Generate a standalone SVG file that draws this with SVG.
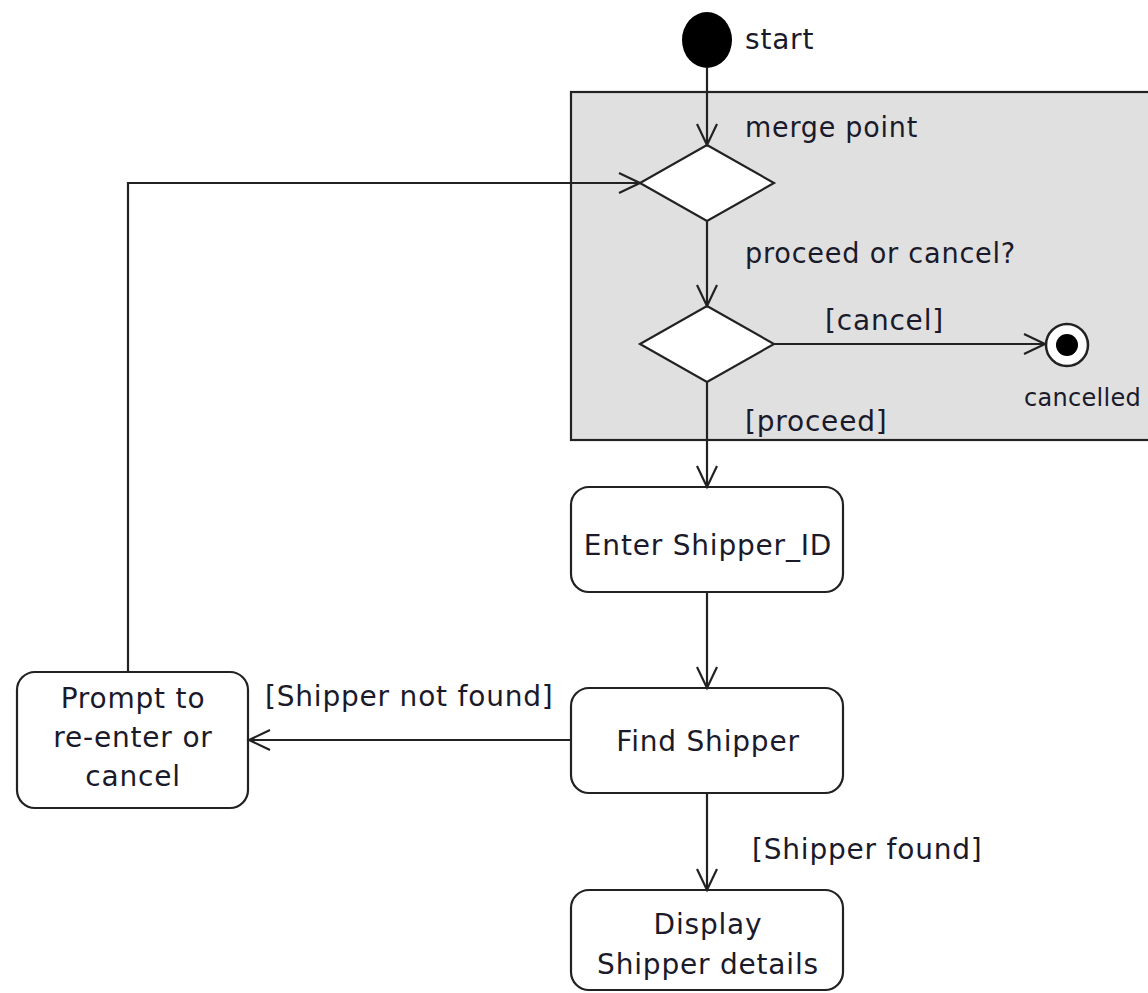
<svg xmlns="http://www.w3.org/2000/svg" width="1148" height="993" viewBox="0 0 1148 993">
<style>
text{font-family:"DejaVu Sans","Liberation Sans",sans-serif;font-size:28px;letter-spacing:0.8px;fill:#1a1a2a}
.c{text-anchor:middle}
.box{fill:#fff;stroke:#222;stroke-width:2.2}
.ln{fill:none;stroke:#222;stroke-width:2.2}
</style>
<defs>
<marker id="open" markerWidth="26" markerHeight="24" refX="23" refY="12" orient="auto" markerUnits="userSpaceOnUse">
<path d="M2,2 L23,12 L2,22" fill="none" stroke="#222" stroke-width="2.2"/>
</marker>
</defs>
<rect id="region" x="571" y="92" width="590" height="348" fill="#e0e0e0" stroke="#222" stroke-width="2.2"/>
<g id="start"><ellipse cx="707" cy="40" rx="25" ry="28" fill="#000"/><text x="745" y="49">start</text></g>
<g id="merge"><polygon class="box" points="707,145 774,183 707,221 640,183"/><text x="745" y="137" textLength="173" lengthAdjust="spacingAndGlyphs">merge point</text></g>
<g id="decision"><polygon class="box" points="707,306 774,344 707,382 640,344"/><text x="745" y="263" textLength="271" lengthAdjust="spacingAndGlyphs">proceed or cancel?</text></g>
<g id="final"><circle cx="1067" cy="345" r="21" fill="#fff" stroke="#222" stroke-width="2.5"/><circle cx="1067" cy="345" r="11" fill="#000"/><text x="1024" y="406" style="font-size:24px;letter-spacing:0.3px">cancelled</text></g>
<g id="enter"><rect class="box" x="571" y="487" width="272" height="105" rx="18"/><text class="c" x="708" y="555">Enter Shipper_ID</text></g>
<g id="find"><rect class="box" x="571" y="688" width="272" height="105" rx="18"/><text class="c" x="708" y="751">Find Shipper</text></g>
<g id="prompt"><rect class="box" x="17" y="672" width="231" height="136" rx="18"/><text class="c" x="133" y="708">Prompt to</text><text class="c" x="133" y="747">re-enter or</text><text class="c" x="133" y="786">cancel</text></g>
<g id="display"><rect class="box" x="571" y="890" width="272" height="100" rx="18"/><text class="c" x="708" y="934">Display</text><text class="c" x="708" y="974">Shipper details</text></g>
<g id="connectors">
<line class="ln" x1="707" y1="68" x2="707" y2="145" marker-end="url(#open)"/>
<line class="ln" x1="707" y1="221" x2="707" y2="306" marker-end="url(#open)"/>
<line class="ln" x1="774" y1="344" x2="1045" y2="344" marker-end="url(#open)"/>
<text x="825" y="330">[cancel]</text>
<line class="ln" x1="707" y1="382" x2="707" y2="487" marker-end="url(#open)"/>
<text x="745" y="431">[proceed]</text>
<line class="ln" x1="707" y1="592" x2="707" y2="688" marker-end="url(#open)"/>
<line class="ln" x1="571" y1="740" x2="249" y2="740" marker-end="url(#open)"/>
<text x="265" y="706">[Shipper not found]</text>
<polyline class="ln" points="128,672 128,183 640,183" marker-end="url(#open)"/>
<line class="ln" x1="707" y1="793" x2="707" y2="890" marker-end="url(#open)"/>
<text x="752" y="859">[Shipper found]</text>
</g>
</svg>
